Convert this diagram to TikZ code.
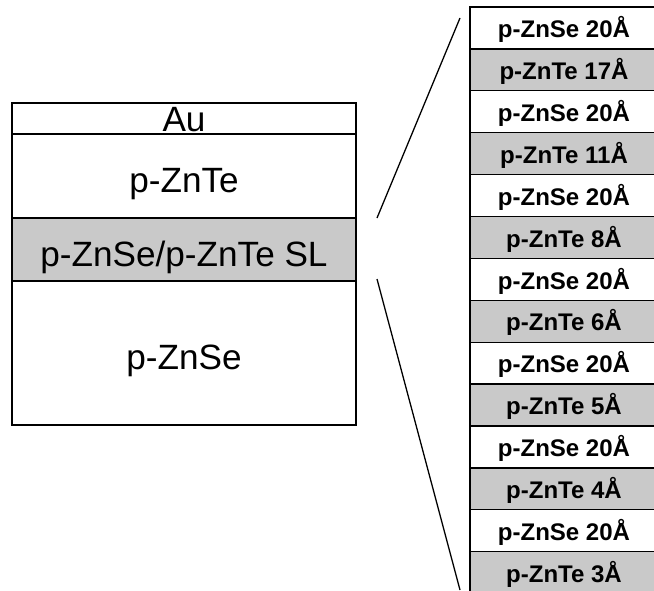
\documentclass[tikz,border=0pt]{standalone}
\usepackage{fontspec}
\setmainfont{Liberation Sans}
\definecolor{slgray}{gray}{0.79}

\begin{document}
\begin{tikzpicture}[x=0.03cm, y=-0.03cm,
    layer/.style={draw, line width=1.4pt, minimum width=10.32cm, inner sep=0pt,
        font=\fontsize{30}{35}\selectfont, text height=1.0cm, text depth=0pt},
    slice/.style={draw, line width=1.1pt, minimum width=5.64cm, minimum height=1.257cm, inner sep=0pt,
        font=\fontsize{20.5}{24}\selectfont\bfseries, text height=0.58cm, text depth=0pt},
    se/.style={fill=white}, te/.style={fill=slgray}]
    \useasboundingbox (0,0) rectangle (654,590);
    \clip (0,0) rectangle (654,590);
    \node[layer, minimum height=0.93cm, text height=0.77cm] at (184,118.5) (au) {Au};
    \node[layer, minimum height=2.52cm] at (184,176) (znte) {p-ZnTe};
    \node[layer, minimum height=1.89cm, fill=slgray] at (184,249.5) (sl) {p-ZnSe/p-ZnTe SL};
    \node[layer, minimum height=4.32cm] at (184,353) (znse) {p-ZnSe};
    \foreach \kind/\lbl [count=\i from 0] in {se/p-ZnSe 20Å, te/p-ZnTe 17Å, se/p-ZnSe 20Å, te/p-ZnTe 11Å,
        se/p-ZnSe 20Å, te/p-ZnTe 8Å, se/p-ZnSe 20Å, te/p-ZnTe 6Å, se/p-ZnSe 20Å, te/p-ZnTe 5Å,
        se/p-ZnSe 20Å, te/p-ZnTe 4Å, se/p-ZnSe 20Å, te/p-ZnTe 3Å}
        \node[slice, \kind] at (564, {27.95+41.9*\i}) (row\i) {\lbl};
    \coordinate (top1) at (460,18);
    \coordinate (top2) at (377,218);
    \coordinate (bot1) at (377,279);
    \coordinate (bot2) at (460,590);
    \draw[line width=1.1pt] (top1) -- (top2);
    \draw[line width=1.1pt] (bot1) -- (bot2);
\end{tikzpicture}
\end{document}
